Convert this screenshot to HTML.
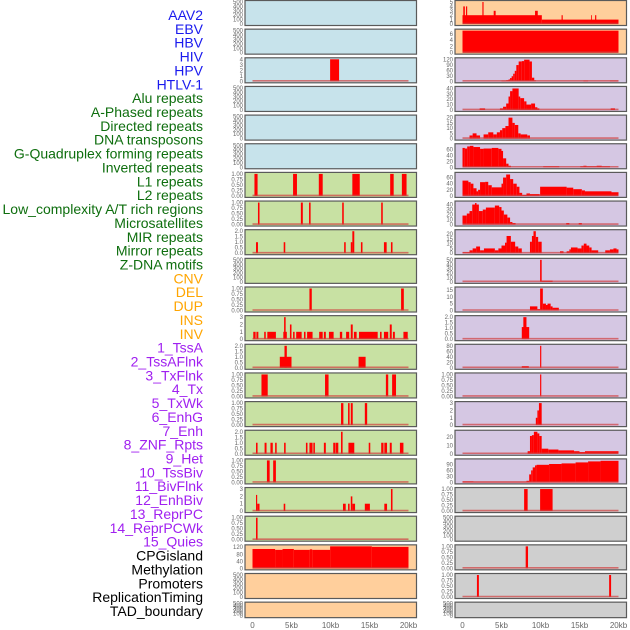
<!DOCTYPE html>
<html><head><meta charset="utf-8">
<style>
html,body{margin:0;padding:0;background:#fff;width:630px;height:630px;overflow:hidden}
svg{display:block;font-family:"Liberation Sans",sans-serif}
.lab{font-size:14px}
.tk{font-size:6px;fill:#666}
.xt{font-size:8px;fill:#666}
</style></head>
<body>
<svg id="chart" width="630" height="630" viewBox="0 0 630 630" xmlns="http://www.w3.org/2000/svg">
<g id="labels"></g>
<g id="panels"></g>
<g id="xaxes"></g>
</svg>
<script>
// ---- data ----
const trackLabels = ["AAV2","EBV","HBV","HIV","HPV","HTLV-1","Alu repeats","A-Phased repeats","Directed repeats","DNA transposons","G-Quadruplex forming repeats","Inverted repeats","L1 repeats","L2 repeats","Low_complexity A/T rich regions","Microsatellites","MIR repeats","Mirror repeats","Z-DNA motifs","CNV","DEL","DUP","INS","INV","1_TssA","2_TssAFlnk","3_TxFlnk","4_Tx","5_TxWk","6_EnhG","7_Enh","8_ZNF_Rpts","9_Het","10_TssBiv","11_BivFlnk","12_EnhBiv","13_ReprPC","14_ReprPCWk","15_Quies","CPGisland","Methylation","Promoters","ReplicationTiming","TAD_boundary"];
const labelColors = ["#1a1aee","#0e6e0e","#ffa500","#a020f0","#000000"];
const labelGroups = [6,13,5,15,5];
const xTickValues = [0,5,10,15,20];
const xTickLabels = ["0","5kb","10kb","15kb","20kb"];

const ticks500 = [0,100,200,300,400,500];
const ticks1 = [0,0.25,0.5,0.75,1];
const ticks2 = [0,0.5,1,1.5,2];
const ticks3 = [0,1,2,3];

// left column segments [startKb, endKb, value]
const segHIV = [[9.95,11.1,4]];
const segL6 = [[0.25,0.65,1],[5.2,5.7,1],[8.5,9.0,1],[12.8,13.75,1],[17.65,18.1,1],[19.15,19.75,1]];
const segL7 = [[0.7,0.9,1],[6.2,6.45,1],[7.25,7.45,1],[11.5,11.7,1],[16.5,16.7,1]];
const segL8 = [[0.45,0.7,1],[4.0,4.2,1],[11.75,11.95,1],[12.6,12.8,1],[12.8,13.05,2],[13.9,14.1,1],[16.85,17.2,1],[17.75,17.95,1]];
const segL10 = [[7.3,7.6,1],[19.05,19.4,1]];
const segL11 = [[0.1,0.4,1],[0.5,0.75,1],[1.5,1.7,1],[1.9,3.0,1],[3.95,4.4,1],[4.05,4.25,3],[4.8,5.0,2],[5.2,5.4,1],[5.6,6.3,1],[6.6,6.8,1],[7.0,7.7,1],[8.55,9.0,1],[9.15,9.4,1],[9.8,10.4,1],[11.2,11.5,1],[12.0,12.4,1],[12.6,12.85,2],[13.0,13.35,1],[13.65,16.05,1],[16.35,16.55,1],[16.85,17.4,1],[17.6,17.85,2],[18.0,18.25,1],[19.35,19.9,1]];
const segL12 = [[3.5,5.0,1],[4.1,4.4,2],[13.6,14.5,1]];
const segL13 = [[1.15,1.95,1],[9.3,9.75,1],[17.1,17.4,1],[17.9,18.4,1]];
const segL14 = [[11.35,11.65,1],[12.25,12.45,1],[12.6,12.85,1],[14.4,14.7,1]];
const segL15 = [[0.45,0.65,1],[1.55,1.8,1],[2.3,2.6,1],[2.9,3.1,1],[4.05,4.25,1],[6.85,7.05,1],[7.3,7.7,1],[7.8,8.0,1],[9.15,9.4,1],[10.35,10.6,1],[10.65,11.0,1],[11.35,11.55,2],[12.3,13.05,1],[14.9,15.1,1],[16.5,16.8,1],[16.9,17.25,1],[17.6,17.85,1],[18.9,19.35,1]];
const segL16 = [[1.85,2.2,1],[2.65,3.0,1]];
const segL17 = [[0.45,0.6,2.2],[0.6,0.9,1],[4.0,4.2,1],[11.6,11.95,1],[12.25,12.45,1],[12.6,12.8,2],[12.8,13.15,1],[14.4,15.05,1],[16.9,17.25,1],[17.75,17.95,3]];
const segL18 = [[0.45,0.65,1]];
const segCNV = [[0,2.9,110],[2.9,3.85,105],[3.85,5.3,110],[5.3,7.35,105],[7.35,7.65,108],[7.65,9.95,105],[9.95,15.3,125],[15.3,20,122]];

// right column
const segINS = [[0,10.17,2],[10.17,20,1],[0.1,0.3,4],[0.45,0.6,4],[2.55,2.7,5],[4.0,4.25,3],[9.3,9.65,3],[12.7,12.85,2],[16.5,16.6,2],[17.0,17.15,2]];
const segINV = [[0,20,7]];
const segR2 = [[5.0,5.6,3],[5.6,5.9,6],[5.9,6.1,10],[6.1,6.3,18],[6.3,6.5,28],[6.5,6.7,42],[6.7,6.9,58],[6.9,7.2,90],[7.2,7.6,110],[7.6,7.9,112],[7.9,8.6,120],[8.6,8.9,110],[8.9,9.2,20],[9.2,9.4,5],[15.5,16.1,3],[18.9,20,3]];
const segR3 = [[2.2,2.9,3],[4.8,5.2,3],[5.2,5.6,6],[5.6,5.9,12],[5.9,6.1,25],[6.1,6.4,35],[6.4,7.2,40],[7.2,7.4,25],[7.4,7.9,22],[7.9,8.2,16],[8.2,8.8,10],[8.8,9.3,12],[9.3,9.6,5],[9.6,9.85,3],[19.0,19.55,3]];
const segR4 = [[0.9,1.3,3],[1.3,1.8,5],[1.8,2.25,3],[2.7,3.3,4],[3.3,3.95,6],[3.95,4.4,4],[4.4,4.8,6],[4.8,5.1,8],[5.1,5.5,10],[5.5,5.9,12],[5.9,6.4,20],[6.4,6.7,15],[6.7,7.15,13],[7.15,7.45,5],[7.45,8.3,4],[8.3,8.65,3]];
const segR5 = [[0,0.3,65],[0.3,0.6,63],[0.6,0.95,70],[0.95,1.4,72],[1.4,2.25,68],[2.25,2.7,62],[2.7,3.75,63],[3.75,4.6,65],[4.6,5.0,62],[5.0,5.2,55],[5.2,5.6,30],[5.6,5.9,12],[5.9,6.2,5],[10.35,12.4,3],[15.1,15.5,3],[15.5,15.9,5],[15.9,17.2,3],[17.2,17.85,5],[17.85,18.9,3]];
const segR6 = [[0,0.75,50],[0.75,1.05,45],[1.05,1.4,40],[1.4,1.8,25],[1.8,2.0,15],[2.0,2.25,20],[2.25,2.9,45],[2.9,3.3,46],[3.3,3.75,35],[3.75,5.0,28],[5.0,5.2,40],[5.2,5.6,60],[5.6,6.1,70],[6.1,6.5,55],[6.5,6.95,40],[6.95,7.3,30],[7.3,7.65,10],[7.65,8.2,3],[8.2,8.65,8],[8.65,9.9,6],[9.95,13.35,30],[13.35,14.2,27],[14.2,15.3,22],[15.3,15.7,18],[15.7,19.1,15],[19.1,20,12]];
const segR7 = [[0,0.55,18],[0.55,0.9,22],[0.9,1.25,27],[1.25,1.6,40],[1.6,1.8,43],[1.8,2.1,40],[2.1,2.6,27],[2.6,3.0,30],[3.0,4.15,34],[4.15,4.7,38],[4.7,5.0,35],[5.0,5.3,28],[5.3,5.75,20],[5.75,6.1,14],[6.1,6.4,5],[6.4,6.8,3],[13.3,13.7,3],[14.9,15.3,3]];
const segR8 = [[0,0.9,1],[0.9,1.3,3],[1.3,1.75,5],[1.75,2.25,7],[2.25,2.75,3],[2.75,4.15,5],[4.15,4.6,3],[4.6,5.0,5],[5.0,5.45,8],[5.45,5.65,11],[5.65,6.2,18],[6.2,6.75,12],[6.75,7.15,7],[7.15,7.6,5],[8.65,8.9,12],[8.9,9.1,18],[9.1,9.4,23],[9.4,9.7,17],[9.7,10.15,12],[12.5,12.95,2],[13.35,13.7,2],[13.7,13.9,4],[13.9,14.75,6],[14.75,15.25,5],[15.25,15.55,8],[15.55,15.9,10],[15.9,16.25,8],[16.25,16.55,6],[16.55,17.4,3],[18.3,18.9,3],[18.9,19.35,4],[19.35,19.75,5],[19.75,20,4]];
const segR9 = [[9.95,10.15,50],[10.15,11.55,3]];
const segR10 = [[8.65,9.6,3],[9.6,9.95,1],[9.95,10.3,16],[10.3,10.7,5],[10.7,10.9,4],[10.9,11.3,5],[11.3,11.55,3],[11.55,12.35,2]];
const segR11 = [[7.6,8.55,1.1],[7.8,8.2,2]];
const segR12 = [[7.6,8.5,6],[9.95,10.1,80]];
const segR13 = [[9.95,10.1,1]];
const segR14 = [[9.4,9.6,1],[9.6,9.8,2],[9.8,10.15,3]];
const segR15 = [[8.35,8.65,3],[8.65,8.9,21],[8.9,9.15,22],[9.15,9.6,26],[9.6,9.85,24],[9.85,10.15,21],[10.15,11.0,6],[11.0,12.3,5],[12.3,14.3,4],[14.3,15.0,3],[15.0,15.7,2],[15.7,20,3]];
const segR16 = [[0,1.4,5],[1.4,8.2,3],[8.2,8.55,8],[8.55,8.8,40],[8.8,9.0,60],[9.0,9.3,75],[9.3,9.5,85],[9.5,11.1,88],[11.1,12.7,92],[12.7,14.5,95],[14.5,16.1,100],[16.1,17.7,105],[17.7,20,108]];
const segR17 = [[7.9,8.35,1],[9.95,11.55,1]];
const segR19 = [[8.1,8.4,1]];
const segR20 = [[1.85,2.1,1],[18.8,19.05,1]];

// layout: [col,row,bg,ymax,ticks,segs]
const BLUE="#c7e3eb",GREEN="#c8e1a3",PEACH="#ffcf9c",PURPLE="#d5c7e3",GREY="#cfcfcf";
const panelDefs = [
 [0,0,BLUE,500,ticks500,null],[0,1,BLUE,500,ticks500,null],[0,2,BLUE,4,[0,1,2,3,4],segHIV],
 [0,3,BLUE,500,ticks500,null],[0,4,BLUE,500,ticks500,null],[0,5,BLUE,500,ticks500,null],
 [0,6,GREEN,1,ticks1,segL6],[0,7,GREEN,1,ticks1,segL7],[0,8,GREEN,2,ticks2,segL8],
 [0,9,GREEN,500,ticks500,null],[0,10,GREEN,1,ticks1,segL10],[0,11,GREEN,3,ticks3,segL11],
 [0,12,GREEN,2,ticks2,segL12],[0,13,GREEN,1,ticks1,segL13],[0,14,GREEN,1,ticks1,segL14],
 [0,15,GREEN,2,ticks2,segL15],[0,16,GREEN,1,ticks1,segL16],[0,17,GREEN,3,ticks3,segL17],
 [0,18,GREEN,1,ticks1,segL18],[0,19,PEACH,125,[0,40,80,120],segCNV],
 [0,20,PEACH,500,ticks500,null],[0,21,PEACH,500,ticks500,null],
 [1,0,PEACH,5,[0,1,2,3,4,5],segINS],[1,1,PEACH,7,[0,2,4,6],segINV],
 [1,2,PURPLE,122,[0,30,60,90,120],segR2],[1,3,PURPLE,41,[0,10,20,30,40],segR3],
 [1,4,PURPLE,21,[0,5,10,15,20],segR4],[1,5,PURPLE,74,[0,20,40,60],segR5],
 [1,6,PURPLE,72,[0,20,40,60],segR6],[1,7,PURPLE,44,[0,10,20,30,40],segR7],
 [1,8,PURPLE,23,[0,5,10,15,20],segR8],[1,9,PURPLE,50,[0,10,20,30,40,50],segR9],
 [1,10,PURPLE,16,[0,5,10,15],segR10],[1,11,PURPLE,2,ticks2,segR11],
 [1,12,PURPLE,80,[0,20,40,60,80],segR12],[1,13,PURPLE,1,ticks1,segR13],
 [1,14,PURPLE,3,ticks3,segR14],[1,15,PURPLE,26,[0,10,20],segR15],
 [1,16,PURPLE,110,[0,30,60,90],segR16],[1,17,GREY,1,ticks1,segR17],
 [1,18,GREY,500,ticks500,null],[1,19,GREY,1,ticks1,segR19],
 [1,20,GREY,1,ticks1,segR20],[1,21,GREY,500,ticks500,null]
];

// ---- drawing ----
const NS="http://www.w3.org/2000/svg";
function mk(tag,attrs,parent){const e=document.createElementNS(NS,tag);for(const k in attrs)e.setAttribute(k,attrs[k]);parent.appendChild(e);return e;}
const colX=[245,455], PW=171.5, X0OFF=7.5, XRANGE=156;
function xScale(col,kb){return colX[col]+X0OFF+kb/20*XRANGE;}
function rowTop(r){return 0.5+28.65*r;}
function rowH(r){return r===21?15.5:25;}
function yScale(r,ymax,v){const t=rowTop(r),h=rowH(r);return t+h-1.5-v/ymax*(h-3);}

// labels
const lg=document.getElementById('labels');
let gi=0,cnt=0;
trackLabels.forEach((t,i)=>{
  while(cnt>=labelGroups[gi]){cnt=0;gi++;}
  cnt++;
  const e=mk('text',{x:203,y:15+i*13.86+5,'text-anchor':'end','class':'lab',fill:labelColors[gi]},lg);
  
  
  e.textContent=t;
});

// panels
const pg=document.getElementById('panels');
panelDefs.forEach(d=>{
  const [col,row,bg,ymax,tks,segs]=d;
  const g=mk('g',{},pg);
  
  
  const t=rowTop(row),h=rowH(row);
  const r=mk('rect',{x:colX[col],y:t,width:PW,height:h,fill:bg,stroke:'#5a5a5a','stroke-width':1.2},g);
  
  
  tks.forEach(v=>{
    const tx=mk('text',{x:colX[col]-2,y:yScale(row,ymax,v)+2,'text-anchor':'end','class':'tk'},g);
    
    
    tx.textContent=(tks===ticks1)?v.toFixed(2):(tks===ticks2?v.toFixed(1):String(v));
  });
  if(segs){
    const y0=yScale(row,ymax,0);
    segs.forEach(s=>{
      const x1=xScale(col,s[0]),x2=xScale(col,s[1]),yv=yScale(row,ymax,s[2]);
      const b=mk('rect',{x:x1,y:yv,width:Math.max(0.8,x2-x1),height:y0-yv,fill:'#ff0000'},g);
      
      
    });
    const bl=mk('line',{x1:xScale(col,0),x2:xScale(col,20),y1:y0-0.5,y2:y0-0.5,stroke:'#d04040','stroke-opacity':0.7,'stroke-width':1.6},g);
    
    
  }
});

// x axes
const xg=document.getElementById('xaxes');
[0,1].forEach(col=>{
  xTickValues.forEach((v,i)=>{
    const tx=mk('text',{x:xScale(col,v),y:628,'text-anchor':'middle','class':'xt'},xg);
    
    
    tx.textContent=xTickLabels[i];
  });
});
</script>
</body></html>
